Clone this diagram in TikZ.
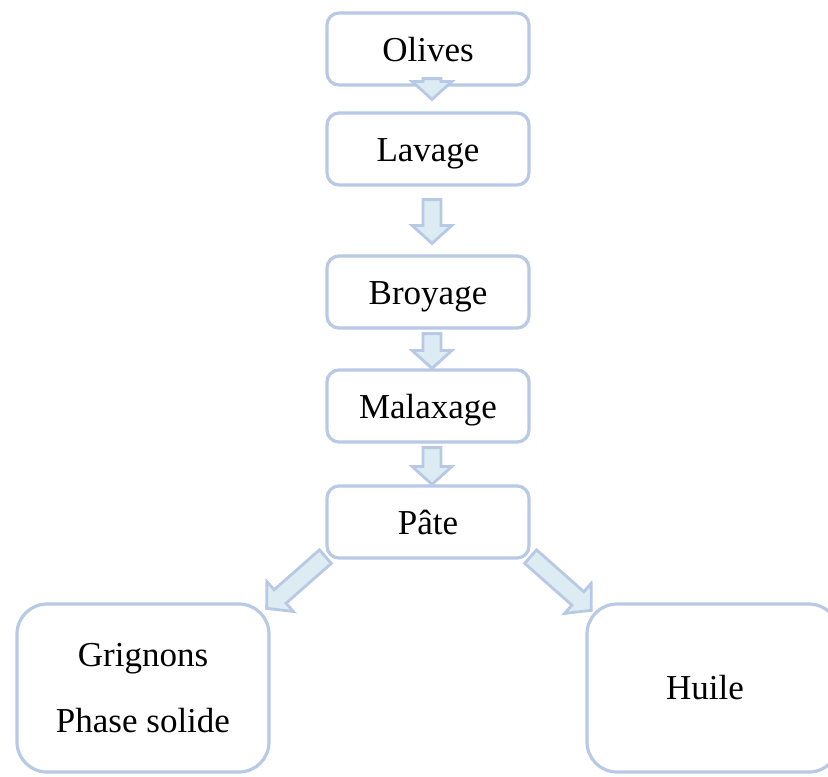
\documentclass[tikz,border=0pt]{standalone}
\usepackage{fontspec}
\setmainfont{Liberation Serif}
\usetikzlibrary{calc}
\definecolor{boxline}{RGB}{183,201,228}
\definecolor{arrowline}{RGB}{183,201,228}
\definecolor{arrowfill}{RGB}{221,235,243}
\tikzstyle{stage} = [draw=boxline,line width=1.6pt,rounded corners=6pt,fill=white,minimum width=101pt,minimum height=36pt,text height=14pt,text depth=2pt,font=\fontsize{17.5}{21}\selectfont]
\tikzstyle{product} = [draw=boxline,line width=1.6pt,rounded corners=15pt,fill=white,minimum width=126pt,minimum height=84pt,align=center,font=\fontsize{17.5}{21}\selectfont]
\tikzstyle{flow} = [draw=arrowline,fill=arrowfill,line width=1.4pt,line join=miter,
  to path={let \p1=(\tikztostart), \p2=(\tikztotarget),
    \n1={atan2(\y2-\y1,\x2-\x1)}, \n2={veclen(\x2-\x1,\y2-\y1)} in
    ([shift={(\p1)},rotate=\n1]0pt,4.5pt)
    -- ([shift={(\p1)},rotate=\n1]\n2-9pt,4.5pt)
    -- ([shift={(\p1)},rotate=\n1]\n2-9pt,10pt)
    -- ([shift={(\p1)},rotate=\n1]\n2,0pt)
    -- ([shift={(\p1)},rotate=\n1]\n2-9pt,-10pt)
    -- ([shift={(\p1)},rotate=\n1]\n2-9pt,-4.5pt)
    -- ([shift={(\p1)},rotate=\n1]0pt,-4.5pt) -- cycle}]

\begin{document}
\begin{tikzpicture}[x=0.5pt,y=-0.5pt]

    \useasboundingbox (0,0) rectangle (828,776);
    \clip (0,0) rectangle (828,776);

% Draw the stages

    \def\cx{428}
    \node[stage] at (\cx,49) (olives) {Olives};
    \node[stage] at (\cx,149) (lavage) {Lavage};
    \node[stage] at (\cx,292) (broyage) {Broyage};
    \node[stage] at (\cx,406) (malaxage) {Malaxage};
    \node[stage] at (\cx,522) (pate) {Pâte};

    \node[product,font=\fontsize{17.5}{33}\selectfont] at (143,688) (grignons) {Grignons\\Phase solide};
    \node[product] at (713,688) (huile) {\hspace*{-8pt}Huile};

% Draw the arrows

    \draw[flow] ([xshift=2pt,yshift=4pt]olives.south) to ([xshift=2pt,yshift=6pt]lavage.north);
    \draw[flow] ([xshift=2pt,yshift=-6.5pt]lavage.south) to ([xshift=2pt,yshift=5.5pt]broyage.north);
    \draw[flow] ([xshift=2pt,yshift=-2pt]broyage.south) to ([xshift=2pt]malaxage.north);
    \draw[flow] ([xshift=2pt,yshift=-2pt]malaxage.south) to ([xshift=2pt]pate.north);
    \draw[flow] ([yshift=1.5pt]pate.south west) to ([xshift=-2pt,yshift=-3pt]grignons.north east);
    \draw[flow] ([yshift=1.5pt]pate.south east) to ([xshift=3pt,yshift=-4pt]huile.north west);

\end{tikzpicture}
\end{document}
